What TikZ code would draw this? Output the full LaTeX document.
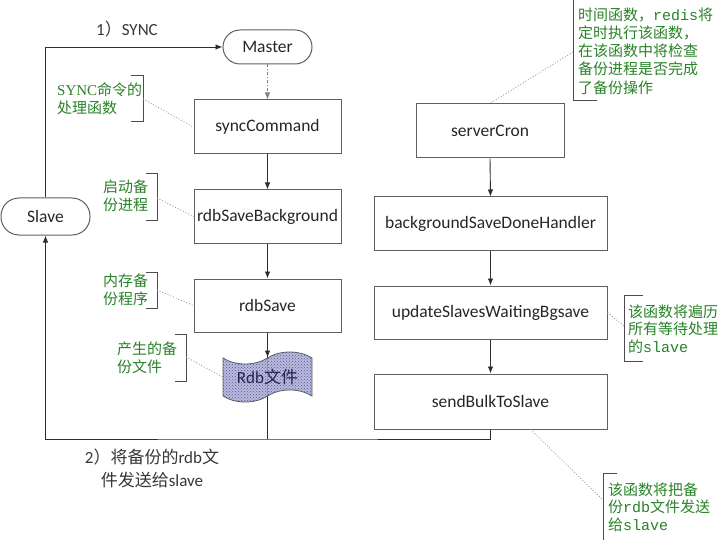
\documentclass[tikz,border=0pt]{standalone}
\usepackage{fontspec}
\setmainfont{Carlito}
\newfontfamily\cjk{Noto Sans CJK SC}
\newfontfamily\monof{Liberation Mono}
\newfontfamily\seriff{Liberation Serif}
\usetikzlibrary{shapes.symbols,patterns,arrows.meta}
\definecolor{linec}{RGB}{45,45,45}
\definecolor{boxc}{RGB}{95,95,95}
\definecolor{anng}{RGB}{40,130,40}
\definecolor{lblc}{RGB}{55,55,55}
\definecolor{rdbfill}{RGB}{172,174,216}
\definecolor{rdbdot}{RGB}{70,70,130}
\definecolor{rdbtext}{RGB}{35,35,85}
\begin{document}
\begin{tikzpicture}[x=1pt,y=-1pt,
  box/.style={draw=boxc,line width=1pt,inner sep=0pt,font=\fontsize{17.5}{20}\selectfont,text=black!85},
  term/.style={box,rounded corners=17pt},
  arr/.style={draw=linec,line width=0.9pt,-{Latex[length=7pt,width=5.5pt]}},
  conn/.style={draw=linec,line width=0.9pt},
  note/.style={draw=gray!80,dotted,line width=0.9pt},
  brk/.style={draw=black!70,line width=1pt},
  ann/.style={text=anng,font=\fontsize{15}{17.5}\selectfont\cjk,align=left,inner sep=0pt,anchor=west},
  lbl/.style={text=lblc,font=\fontsize{17}{23}\selectfont,align=center,inner sep=0pt}]
\useasboundingbox (0,0) rectangle (720,540);

% left column
\node[term,minimum width=89pt,minimum height=34pt] (master) at (267.5,47) {Master};
\node[term,minimum width=89pt,minimum height=37pt,rounded corners=18pt] (slave) at (45.5,216.5) {Slave};
\node[box,minimum width=147pt,minimum height=54pt] (sync) at (267.5,127) {syncCommand};
\node[box,minimum width=147pt,minimum height=53pt] (rsb) at (267.5,216.5) {rdbSaveBackground};
\node[box,minimum width=147pt,minimum height=53pt] (rs) at (267.5,305.5) {rdbSave};
\coordinate (j) at (267.5,439);
\draw[conn] (rs.south) -- (j);
\node[tape,draw=boxc,line width=0.8pt,fill=rdbfill,fill opacity=0.85,text opacity=1,
      postaction={pattern=crosshatch dots,pattern color=rdbdot},
      minimum width=89pt,minimum height=50pt,tape bend height=12pt,inner sep=0pt,
      font=\fontsize{17}{20}\selectfont,text=rdbtext] (rdb) at (267.5,377) {Rdb{\cjk 文件}};

% right column
\node[box,minimum width=148pt,minimum height=54pt] (cron) at (490,131) {serverCron};
\node[box,minimum width=233pt,minimum height=53pt] (bsdh) at (490.5,223.5) {backgroundSaveDoneHandler};
\node[box,minimum width=233pt,minimum height=53pt] (usw) at (490.5,312.5) {updateSlavesWaitingBgsave};
\node[box,minimum width=233pt,minimum height=55pt] (sbts) at (490.5,401.5) {sendBulkToSlave};

% connectors
\draw[arr] (slave.north) |- (master.west);
\draw[arr,draw=gray,dash pattern=on 3pt off 2pt on 1pt off 2pt] (master.south) -- (sync.north);
\draw[arr] (sync.south) -- (rsb.north);
\draw[arr] (rsb.south) -- (rs.north);
\draw[arr] (rs.south) -- (rdb.north);
\draw[arr] (sbts.south) |- (j) -| (slave.south);
\draw[arr] (cron.south) -- (bsdh.north);
\draw[arr] (bsdh.south) -- (usw.north);
\draw[arr] (usw.south) -- (sbts.north);

% labels
\node[lbl] (l1) at (127,29) {1{\cjk ）}SYNC};
\node[lbl] (l2) at (152,468) {2{\cjk ）将备份的}rdb{\cjk 文}\\{\cjk 件发送给}slave};

% annotations
\node[ann] (a1) at (57,98.5) {{\seriff SYNC}命令的\\处理函数};
\draw[brk] (131,76) -- (143,76) -- (143,122) -- (131,122);
\draw[note] (143,99) -- (sync.west);

\node[ann] (a2) at (103,196) {启动备\\份进程};
\draw[brk] (146,174) -- (157,174) -- (157,221) -- (146,221);
\draw[note] (157,198) -- (rsb.west);

\node[ann] (a3) at (103,290) {内存备\\份程序};
\draw[brk] (146,272) -- (157,272) -- (157,308) -- (146,308);
\draw[note] (157,290) -- (rs.west);

\node[ann] (a4) at (117,358) {产生的备\\份文件};
\draw[brk] (175,334) -- (186,334) -- (186,381) -- (175,381);
\draw[note] (186,357) -- (rdb.west);

\node[ann,font=\fontsize{15}{18.3}\selectfont\cjk] (a5) at (578,51) {时间函数，{\monof redis}将\\定时执行该函数，\\在该函数中将检查\\备份进程是否完成\\了备份操作};
\draw[brk] (573,0) -- (573,101) -- (597,101);
\draw[note] (573,52) -- (cron.north);

\node[ann] (a6) at (628,329) {该函数将遍历\\所有等待处理\\的{\monof slave}};
\draw[brk] (643,295) -- (624,295) -- (624,361) -- (643,361);
\draw[note] (usw.east) -- (624,326);

\node[ann] (a7) at (608,507) {该函数将把备\\份{\monof rdb}文件发送\\给{\monof slave}};
\draw[brk] (617,473) -- (603,473) -- (603,545);
\draw[note] (sbts.-35) -- (603,500);
\end{tikzpicture}
\end{document}
